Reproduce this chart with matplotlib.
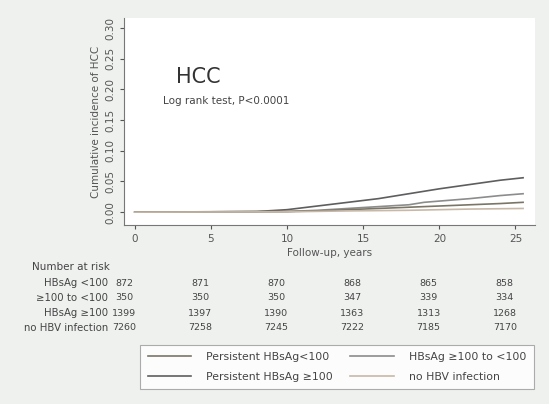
import matplotlib.pyplot as plt

# cumulative incidence curves
years_a = [0, 8, 10, 12, 14, 16, 18, 20, 22, 24, 25.5]
inc_a = [0.0, 0.001, 0.004, 0.010, 0.016, 0.022, 0.030, 0.038, 0.045, 0.052, 0.056]
years_b = [0, 10, 12, 14, 16, 18, 19, 20, 22, 24, 25.5]
inc_b = [0.0, 0.001, 0.003, 0.006, 0.009, 0.012, 0.016, 0.018, 0.022, 0.027, 0.030]
years_c = [0, 10, 12, 14, 16, 18, 20, 22, 24, 25.5]
inc_c = [0.0, 0.001, 0.002, 0.004, 0.006, 0.008, 0.010, 0.012, 0.014, 0.016]
years_d = [0, 10, 14, 18, 20, 22, 25.5]
inc_d = [0.0, 0.0005, 0.002, 0.003, 0.004, 0.005, 0.006]

risk_times = [0, 5, 10, 15, 20, 25]
risk_labels = ["HBsAg <100", "≥100 to <100", "HBsAg ≥100", "no HBV infection"]
risk_a = [872, 871, 870, 868, 865, 858]
risk_b = [350, 350, 350, 347, 339, 334]
risk_c = [1399, 1397, 1390, 1363, 1313, 1268]
risk_d = [7260, 7258, 7245, 7222, 7185, 7170]

fig = plt.figure(figsize=(5.49, 4.04), dpi=100, facecolor='#eef1ee')
ax = fig.add_axes([0.226, 0.443, 0.749, 0.512])
ax.set_facecolor('white')

colors = ['#5e5e5e', '#8c8c8c', '#7a7566', '#c8b8a8']
lines = []
for xs, ys, c in zip([years_a, years_b, years_c, years_d],
                     [inc_a, inc_b, inc_c, inc_d], colors):
    ln, = ax.plot(xs, ys, color=c, lw=1.2)
    lines.append(ln)

ax.set_xlim(-0.7, 26.3)
ax.set_ylim(-0.021, 0.316)
ax.set_xticks(risk_times)
ax.set_yticks([0, 0.05, 0.10, 0.15, 0.20, 0.25, 0.30])
ax.set_yticklabels(['0.00', '0.05', '0.10', '0.15', '0.20', '0.25', '0.30'],
                   rotation=90, va='center', fontsize=7.5, color='#555555')
ax.tick_params(axis='x', labelsize=7.5, colors='#555555', length=3)
ax.tick_params(axis='y', length=3, colors='#555555')
for s in ['top', 'right']:
    ax.spines[s].set_visible(False)
for s in ['left', 'bottom']:
    ax.spines[s].set_color('#777777')
ax.set_ylabel('Cumulative incidence of HCC', fontsize=7.5, color='#555555', labelpad=3)
ax.set_xlabel('Follow-up, years', fontsize=7.5, color='#555555', labelpad=3)

ax.text(0.127, 0.686, 'HCC', transform=ax.transAxes, fontsize=15, color='#333333')
ax.text(0.095, 0.60, 'Log rank test, P<0.0001', transform=ax.transAxes,
        fontsize=7.5, color='#444444', va='center')

# number at risk table
fig.text(110 / 549, 1 - 267 / 404, 'Number at risk', ha='right', va='center',
         fontsize=7.5, color='#444444')
row_y = [283, 298, 313, 328]
for lab, vals, yy in zip(risk_labels, [risk_a, risk_b, risk_c, risk_d], row_y):
    yf = 1 - yy / 404
    fig.text(108 / 549, yf, lab, ha='right', va='center', fontsize=7.3, color='#444444')
    for t, v in zip(risk_times, vals):
        xd = ax.transData.transform((t - 0.7, 0))[0]
        xf = fig.transFigure.inverted().transform((xd, 0))[0]
        fig.text(xf, yf, str(v), ha='center', va='center', fontsize=6.8, color='#444444')

leg = fig.legend([lines[2], lines[0], lines[1], lines[3]],
                 ["Persistent HBsAg<100", "Persistent HBsAg ≥100",
                  "HBsAg ≥100 to <100", "no HBV infection"],
                 ncol=2, loc='center', bbox_to_anchor=(337 / 549, 1 - 367 / 404),
                 fontsize=7.8, frameon=True, fancybox=False, handlelength=4,
                 columnspacing=1.6, handletextpad=1.4, borderpad=0.7,
                 labelspacing=0.9)
leg.get_frame().set_edgecolor('#999999')
leg.get_frame().set_linewidth(0.8)
for t in leg.get_texts():
    t.set_color('#444444')

fig.savefig('out.png', dpi=100, facecolor=fig.get_facecolor())
